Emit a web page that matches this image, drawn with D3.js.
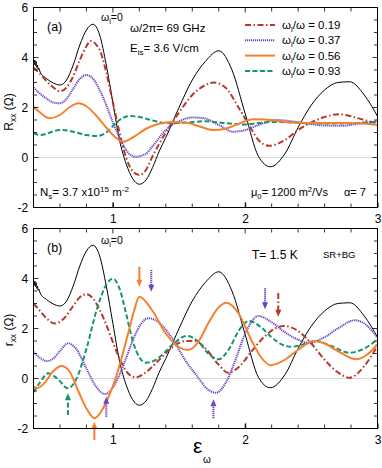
<!DOCTYPE html>
<html>
<head>
<meta charset="utf-8">
<script src="https://cdn.jsdelivr.net/npm/d3@7"></script>
<style>
  body { margin: 0; background: #fff; }
  svg { display: block; font-family: "Liberation Sans", Arial, sans-serif; }
</style>
</head>
<body>
<div id="chart"></div>
<script>
// ---- data: [epsilon, value] ----
// panel (a): R_xx
var aBlack = [[0.40,3.95],[0.405,3.72],[0.41,3.9],[0.415,3.68],[0.42,3.84],[0.425,3.6],[0.43,3.7],[0.435,3.52],[0.44,3.58],[0.45,3.42],
  [0.50,3.15],[0.55,2.98],[0.60,2.9],[0.65,3.1],[0.70,3.7],[0.75,4.5],[0.80,5.1],[0.85,5.33],[0.90,4.9],[0.95,3.7],[1.00,2.2],
  [1.05,0.7],[1.10,-0.25],[1.15,-0.85],[1.20,-1.07],[1.25,-0.9],[1.30,-0.4],[1.35,0.25],[1.40,0.8],[1.50,2.0],[1.60,3.1],[1.70,3.85],
  [1.80,4.27],[1.90,3.5],[2.00,1.75],[2.10,0.05],[2.19,-0.37],[2.30,0.15],[2.40,1.2],[2.50,2.1],[2.60,2.7],[2.70,3.0],[2.79,3.03],
  [2.90,2.5],[3.00,1.65]];
var aRed = [[0.40,3.6],[0.45,3.35],[0.50,3.05],[0.55,2.8],[0.60,2.65],[0.65,2.8],[0.70,3.25],[0.75,3.9],[0.80,4.45],[0.83,4.66],
  [0.90,4.3],[0.95,3.4],[1.00,2.2],[1.05,1.0],[1.10,0.0],[1.15,-0.55],[1.20,-0.7],[1.25,-0.5],[1.30,0.05],[1.40,1.0],[1.50,1.8],
  [1.60,2.5],[1.70,2.9],[1.76,3.0],[1.85,2.8],[1.95,2.0],[2.05,1.1],[2.10,0.7],[2.18,0.47],[2.30,0.7],[2.40,1.1],[2.50,1.4],
  [2.60,1.62],[2.71,1.73],[2.80,1.65],[2.90,1.5],[3.00,1.37]];
var aPurple = [[0.40,2.8],[0.45,2.55],[0.50,2.35],[0.55,2.2],[0.60,2.17],[0.65,2.35],[0.70,2.75],[0.75,3.15],[0.80,3.3],[0.85,3.15],
  [0.90,2.7],[0.95,2.1],[1.00,1.4],[1.05,0.8],[1.10,0.3],[1.17,0.03],[1.25,0.15],[1.30,0.45],[1.40,1.1],[1.50,1.45],[1.60,1.6],
  [1.68,1.58],[1.80,1.3],[1.91,1.03],[2.00,1.1],[2.10,1.3],[2.23,1.5],[2.35,1.45],[2.50,1.33],[2.60,1.28],[2.74,1.27],[2.85,1.35],[3.00,1.45]];
var aOrange = [[0.40,2.03],[0.45,1.8],[0.52,1.57],[0.60,1.7],[0.67,2.0],[0.74,2.17],[0.80,2.05],[0.87,1.7],[0.95,1.2],[1.02,0.8],
  [1.08,0.63],[1.15,0.8],[1.25,1.15],[1.35,1.35],[1.45,1.42],[1.55,1.4],[1.65,1.25],[1.76,1.1],[1.85,1.15],[1.95,1.35],[2.06,1.53],
  [2.15,1.52],[2.30,1.42],[2.50,1.38],[2.70,1.38],[2.85,1.37],[3.00,1.3]];
var aGreen = [[0.40,0.97],[0.45,0.9],[0.50,0.95],[0.55,1.05],[0.62,1.1],[0.70,1.03],[0.80,0.9],[0.88,0.86],[0.95,1.0],[1.00,1.25],
  [1.05,1.5],[1.13,1.66],[1.20,1.62],[1.30,1.48],[1.40,1.38],[1.50,1.38],[1.60,1.42],[1.70,1.45],[1.80,1.4],[1.90,1.35],[2.00,1.32],
  [2.10,1.38],[2.20,1.42],[2.35,1.4],[2.50,1.37],[2.70,1.36],[2.85,1.38],[3.00,1.42]];

// panel (b): r_xx
var bBlack = aBlack;
var bRed = [[0.40,3.0],[0.45,2.7],[0.50,2.4],[0.56,2.2],[0.62,2.35],[0.70,2.9],[0.75,3.25],[0.80,3.37],[0.85,3.2],[0.90,2.75],
  [0.95,2.15],[1.00,1.45],[1.05,0.8],[1.10,0.3],[1.17,0.05],[1.25,0.25],[1.35,0.75],[1.45,1.25],[1.55,1.5],[1.62,1.5],[1.70,1.2],
  [1.80,0.55],[1.87,0.23],[1.95,0.45],[2.05,1.1],[2.15,1.7],[2.29,2.1],[2.40,1.9],[2.50,1.4],[2.60,0.75],[2.70,0.25],[2.79,0.03],
  [2.90,0.5],[3.00,1.3]];
var bPurple = [[0.40,1.07],[0.45,0.82],[0.50,0.7],[0.55,0.8],[0.60,1.1],[0.66,1.41],[0.72,1.2],[0.80,0.4],[0.87,-0.3],[0.94,-0.62],
  [1.00,-0.36],[1.05,0.15],[1.10,0.82],[1.17,1.77],[1.22,2.24],[1.27,2.41],[1.35,2.23],[1.45,1.59],[1.55,0.7],[1.65,0.0],[1.70,-0.35],
  [1.78,-0.57],[1.85,-0.2],[1.92,0.65],[2.00,1.8],[2.10,2.5],[2.20,2.25],[2.30,1.85],[2.40,1.55],[2.48,1.43],[2.60,1.65],[2.70,2.0],
  [2.83,2.33],[2.90,2.2],[3.00,1.63]];
var bOrange = [[0.40,-0.33],[0.43,-0.38],[0.48,-0.2],[0.55,0.3],[0.61,0.5],[0.67,0.3],[0.73,-0.4],[0.80,-1.2],[0.86,-1.59],[0.92,-1.25],
  [0.97,-0.7],[1.02,0.0],[1.07,0.9],[1.12,1.9],[1.16,2.7],[1.20,3.27],[1.30,2.7],[1.40,1.8],[1.50,1.25],[1.57,1.14],[1.65,1.5],
  [1.72,2.2],[1.80,2.85],[1.86,3.03],[1.95,2.6],[2.05,1.5],[2.12,0.85],[2.19,0.53],[2.30,0.75],[2.40,1.15],[2.52,1.5],[2.60,1.4],
  [2.70,1.1],[2.84,0.77],[2.92,0.95],[3.00,1.37]];
var bGreen = [[0.40,-0.55],[0.45,-0.15],[0.51,0.21],[0.58,0.0],[0.66,-0.39],[0.72,-0.06],[0.80,1.19],[0.88,2.79],[0.95,3.75],
  [1.00,3.99],[1.05,3.6],[1.10,2.6],[1.15,1.5],[1.20,0.85],[1.25,0.63],[1.30,0.68],[1.35,0.85],[1.45,1.35],[1.56,1.7],[1.65,1.45],
  [1.72,1.0],[1.80,0.77],[1.88,1.2],[1.95,1.9],[2.03,2.3],[2.12,2.05],[2.20,1.65],[2.28,1.35],[2.35,1.27],[2.45,1.38],[2.53,1.5],
  [2.65,1.3],[2.79,1.03],[2.90,1.2],[3.00,1.57]];

// arrows in panel (b): [epsilon, tail, head, series]
var bArrows = [[1.20,4.47,3.67,"orange"],[1.29,4.34,3.47,"purple"],[0.66,-1.46,-0.59,"green"],[0.86,-2.46,-1.73,"orange"],
  [0.95,-1.53,-0.73,"purple"],[2.15,3.61,2.77,"purple"],[2.25,3.42,2.47,"red"],[1.76,-1.59,-0.83,"purple"]];

var legendLabels = ["0.19", "0.37", "0.56", "0.93"];
var xTickLabels = [1, 2, 3];
var yTickLabels = [-2, 0, 2, 4, 6];

// ---- styles ----
var styles = {
  black:  {color: "#000000", width: 1,   dash: null},
  red:    {color: "#b5392b", width: 2,   dash: "6,2.5,1.5,2.5"},
  purple: {color: "#6a45c4", width: 2,   dash: "1.2,0.8"},
  orange: {color: "#f7802c", width: 2,   dash: null},
  green:  {color: "#17946c", width: 2,   dash: "5,2.5"}
};

var W = 382, H = 468;
var svg = d3.select("#chart").append("svg").attr("width", W).attr("height", H);

var x = d3.scaleLinear().domain([0.4, 3.0]).range([33.5, 377.5]);

function panel(top, name, series, arrows) {
  var y = d3.scaleLinear().domain([-2, 6]).range([top + 200, top]);
  var g = svg.append("g");

  g.append("clipPath").attr("id", "clip" + name)
    .append("rect").attr("x", x.range()[0]).attr("y", top)
    .attr("width", x.range()[1] - x.range()[0]).attr("height", 200);

  // zero line
  g.append("line")
    .attr("x1", x.range()[0]).attr("x2", x.range()[1])
    .attr("y1", y(0)).attr("y2", y(0))
    .style("stroke", "#8a8a8a").style("stroke-width", 0.7).style("stroke-dasharray", "1,1");

  var line = d3.line().x(d => x(d[0])).y(d => y(d[1])).curve(d3.curveMonotoneX);
  var order = ["black", "red", "purple", "green", "orange"];
  order.forEach(function (k) {
    var s = styles[k];
    g.append("path").datum(series[k])
      .attr("clip-path", "url(#clip" + name + ")")
      .attr("d", line)
      .style("fill", "none")
      .style("stroke", s.color)
      .style("stroke-width", s.width)
      .style("stroke-dasharray", s.dash);
  });

  // arrows
  (arrows || []).forEach(function (a) {
    var s = styles[a[3]];
    var xa = x(a[0]), y1 = y(a[1]), y2 = y(a[2]);
    var dir = y2 > y1 ? 1 : -1;
    g.append("line").attr("x1", xa).attr("x2", xa)
      .attr("y1", y1).attr("y2", y2 - dir * 5)
      .style("stroke", s.color).style("stroke-width", 2)
      .style("stroke-dasharray", s.dash);
    g.append("path")
      .attr("d", "M" + (xa - 3) + "," + (y2 - dir * 7) + "L" + xa + "," + y2 + "L" + (xa + 3) + "," + (y2 - dir * 7) + "Z")
      .style("fill", s.color);
  });

  // axes, ticks inward on all four sides
  var xMajor = d3.axisBottom(x).tickValues(xTickLabels).tickSize(-5).tickFormat(d => String(d));
  var xMinor = d3.range(0.4, 3.001, 0.2);
  var yMinor = d3.range(-2, 6.001, 0.5);
  var ax = g.append("g").attr("transform", "translate(0," + (top + 200) + ")").call(xMajor);
  ax.select(".domain").remove();
  ax.selectAll("text").attr("dy", "1.05em").style("font-size", "12px").style("font-family", "Liberation Sans, Arial, sans-serif");

  var ay = g.append("g").attr("transform", "translate(" + x.range()[0] + ",0)")
    .call(d3.axisLeft(y).tickValues(yTickLabels).tickSize(-5).tickFormat(d => String(d)));
  ay.select(".domain").remove();
  ay.selectAll("text").attr("dx", "-0.2em").style("font-size", "12px").style("font-family", "Liberation Sans, Arial, sans-serif");
  ay.selectAll("line").remove();

  var tk = g.append("g").style("stroke", "#000").style("stroke-width", 0.8);
  xMinor.forEach(function (v) {
    var len = Math.abs(v - Math.round(v)) < 1e-6 ? 5 : 4;
    tk.append("line").attr("x1", x(v)).attr("x2", x(v)).attr("y1", top + 200).attr("y2", top + 200 - len);
    tk.append("line").attr("x1", x(v)).attr("x2", x(v)).attr("y1", top).attr("y2", top + len);
  });
  yMinor.forEach(function (v) {
    var len = Math.abs(v / 2 - Math.round(v / 2)) < 1e-6 ? 5 : 3.5;
    tk.append("line").attr("x1", x.range()[0]).attr("x2", x.range()[0] + len).attr("y1", y(v)).attr("y2", y(v));
    tk.append("line").attr("x1", x.range()[1]).attr("x2", x.range()[1] - len).attr("y1", y(v)).attr("y2", y(v));
  });

  g.append("rect").attr("x", x.range()[0]).attr("y", top)
    .attr("width", x.range()[1] - x.range()[0]).attr("height", 200)
    .style("fill", "none").style("stroke", "#000").style("stroke-width", 1);

  return {g: g, y: y};
}

// text with sub/superscripts: parts = [[text, "sub"|"sup"|""], ...]
function rich(parent, px, py, parts, size, anchor) {
  var t = parent.append("text").attr("x", px).attr("y", py)
    .style("font-size", size + "px").style("text-anchor", anchor || "start");
  var shift = 0;
  parts.forEach(function (p) {
    var target = p[1] === "sub" ? 3 : p[1] === "sup" ? -4 : 0;
    t.append("tspan").attr("dy", target - shift)
      .style("font-size", p[1] ? (size * 0.7) + "px" : null)
      .text(p[0]);
    shift = target;
  });
  return t;
}

var pa = panel(7.5, "a", {black: aBlack, red: aRed, purple: aPurple, orange: aOrange, green: aGreen});
var pb = panel(228.5, "b", {black: bBlack, red: bRed, purple: bPurple, orange: bOrange, green: bGreen}, bArrows);

// panel (a) annotations
rich(pa.g, 47, 31, [["(a)", ""]], 12.5);
rich(pa.g, 101, 21, [["ω", ""], ["l", "sub"], ["=0", ""]], 10.5);
rich(pa.g, 130, 32, [["ω/2π= 69 GHz", ""]], 11.5);
rich(pa.g, 130, 52, [["E", ""], ["is", "sub"], ["= 3.6 V/cm", ""]], 11.5);
rich(pa.g, 40, 196, [["N", ""], ["s", "sub"], ["= 3.7 x10", ""], ["15", "sup"], [" m", ""], ["-2", "sup"]], 11.5);
rich(pa.g, 251, 196, [["μ", ""], ["0", "sub"], ["= 1200 m", ""], ["2", "sup"], ["/Vs", ""]], 11);
rich(pa.g, 344, 196, [["α= 7", ""]], 11);

// legend
["red", "purple", "orange", "green"].forEach(function (k, i) {
  var s = styles[k];
  var ly = 25 + i * 15.3;
  pa.g.append("line").attr("x1", 245).attr("x2", 275).attr("y1", ly).attr("y2", ly)
    .style("stroke", s.color).style("stroke-width", s.width).style("stroke-dasharray", s.dash);
  rich(pa.g, 282, ly + 4, [["ω", ""], ["l", "sub"], ["/ω = " + legendLabels[i], ""]], 11.5);
});

// panel (b) annotations
rich(pb.g, 47, 252, [["(b)", ""]], 12.5);
rich(pb.g, 101, 244, [["ω", ""], ["l", "sub"], ["=0", ""]], 10.5);
rich(pb.g, 252, 259, [["T= 1.5 K", ""]], 12);
rich(pb.g, 323, 258, [["SR+BG", ""]], 9.5);

// axis titles
var ta = rich(svg, 0, 0, [["R", ""], ["xx", "sub"], [" (Ω)", ""]], 12, "middle");
ta.attr("transform", "translate(13,112) rotate(-90)");
var tb = rich(svg, 0, 0, [["r", ""], ["xx", "sub"], [" (Ω)", ""]], 12, "middle");
tb.attr("transform", "translate(13,330) rotate(-90)");
rich(svg, 193, 453, [["ε", ""]], 21);
svg.append("text").attr("x", 203).attr("y", 463).style("font-size", "10px").text("ω");
</script>
</body>
</html>
